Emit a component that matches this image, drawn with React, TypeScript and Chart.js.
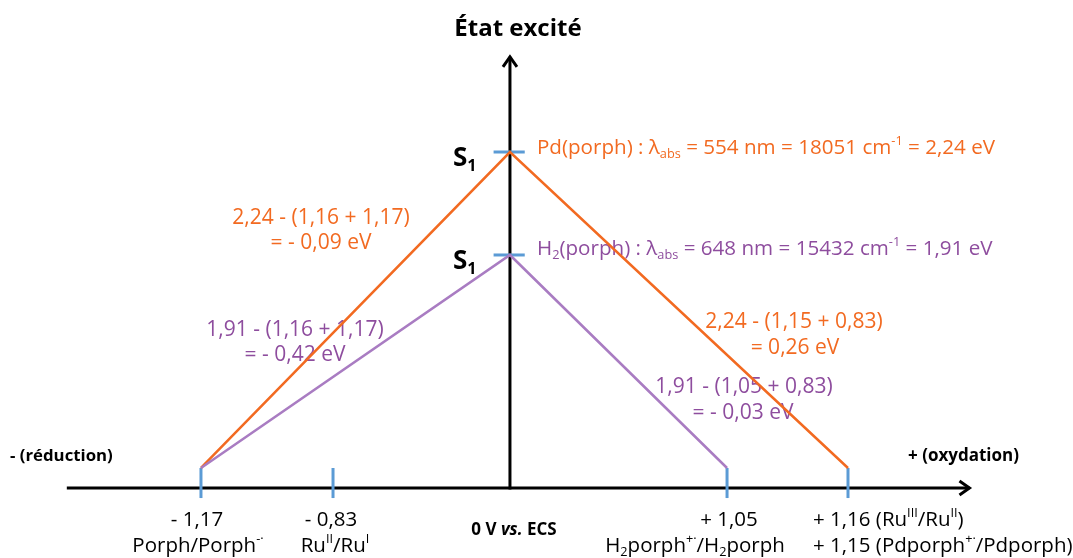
import React, { useEffect, useRef } from "react";
import { Chart, registerables } from "chart.js";
Chart.register(...registerables);

// Schematic positions on the diagram (x: potential axis, y: energy axis)
const reductionPos = -1.17; // Porph/Porph-.
const ruReductionPos = -0.67; // Ru(II)/Ru(I) drawn position
const h2OxidationPos = 0.822; // H2porph+./H2porph drawn position
const pdOxidationPos = 1.28; // Ru(III)/Ru(II), Pdporph+./Pdporph drawn position
const tickPositions = [reductionPos, ruReductionPos, h2OxidationPos, pdOxidationPos];

const pdLevel = 2.24; // S1 of Pd(porph)
const h2Level = 1.51; // S1 of H2(porph) (drawn level)

const pdPathX = [reductionPos, 0, pdOxidationPos];
const pdPathY = [0, pdLevel, 0];
const h2PathX = [reductionPos, 0, h2OxidationPos];
const h2PathY = [0, h2Level, 0];

const tickValueLabels = ["- 1,17", "- 0,83", "+ 1,05"];

const ORANGE = "#F26A21";
const PURPLE_TEXT = "#8E4D9E";
const PURPLE_LINE = "#A97CC2";
const BLUE = "#5B9BD5";
const FONT = "'Open Sans', Lato, sans-serif";
const FS = 21; // annotation text
const TS = 20.5; // tick label text

type Seg = { t: string; s?: "sub" | "sup"; style?: string };

function richWidth(ctx: CanvasRenderingContext2D, segs: Seg[], size: number, weight: string) {
  let w = 0;
  for (const sg of segs) {
    const fs = sg.s ? size * 0.62 : size;
    ctx.font = `${sg.style || ""} ${weight} ${fs}px ${FONT}`;
    w += ctx.measureText(sg.t).width;
  }
  return w;
}

function drawRich(
  ctx: CanvasRenderingContext2D,
  segs: Seg[],
  x: number,
  y: number,
  align: "left" | "center",
  size: number,
  color: string,
  weight = "normal"
) {
  const w = richWidth(ctx, segs, size, weight);
  let cx = align === "center" ? x - w / 2 : x;
  ctx.save();
  ctx.fillStyle = color;
  ctx.textAlign = "left";
  ctx.textBaseline = "middle";
  for (const sg of segs) {
    const fs = sg.s ? size * 0.62 : size;
    ctx.font = `${sg.style || ""} ${weight} ${fs}px ${FONT}`;
    const dy = sg.s === "sub" ? size * 0.3 : sg.s === "sup" ? -size * 0.32 : 0;
    ctx.fillText(sg.t, cx, y + dy);
    cx += ctx.measureText(sg.t).width;
  }
  ctx.restore();
}

const diagramPlugin = {
  id: "diagram",
  beforeDatasetsDraw(chart: any) {
    const ctx: CanvasRenderingContext2D = chart.ctx;
    const xs = chart.scales.x;
    const ys = chart.scales.y;
    const px = (v: number) => xs.getPixelForValue(v);
    const py = (v: number) => ys.getPixelForValue(v);
    const x0 = px(0);
    const axisY = py(-0.142);

    ctx.save();
    ctx.strokeStyle = "#000";
    ctx.lineWidth = 3;
    ctx.lineCap = "butt";
    // horizontal axis
    ctx.beginPath();
    ctx.moveTo(px(-1.678), axisY);
    ctx.lineTo(px(1.74), axisY);
    ctx.stroke();
    // arrowhead right
    const ax = px(1.74);
    ctx.lineJoin = "miter";
    ctx.beginPath();
    ctx.moveTo(ax - 10, axisY - 7);
    ctx.lineTo(ax, axisY);
    ctx.lineTo(ax - 10, axisY + 7);
    ctx.stroke();
    // vertical axis
    const topY = py(2.915);
    ctx.beginPath();
    ctx.moveTo(x0, axisY + 1.5);
    ctx.lineTo(x0, topY);
    ctx.stroke();
    ctx.beginPath();
    ctx.moveTo(x0 - 7, topY + 10);
    ctx.lineTo(x0, topY);
    ctx.lineTo(x0 + 7, topY + 10);
    ctx.stroke();

    // blue ticks
    ctx.strokeStyle = BLUE;
    ctx.lineWidth = 3;
    for (const t of tickPositions) {
      ctx.beginPath();
      ctx.moveTo(px(t), py(0));
      ctx.lineTo(px(t), py(-0.213));
      ctx.stroke();
    }
    // level marks
    for (const lv of [pdLevel, h2Level]) {
      ctx.beginPath();
      ctx.moveTo(px(-0.062), py(lv));
      ctx.lineTo(px(0.056), py(lv));
      ctx.stroke();
    }
    ctx.restore();

    // Title
    drawRich(ctx, [{ t: "État excité" }], x0 + 8, 29, "center", 24, "#000", "bold");

    // S1 labels
    for (const lv of [pdLevel, h2Level]) {
      drawRich(ctx, [{ t: "S" }, { t: "1", s: "sub" }], x0 - 57, py(lv) + 7, "left", 26, "#000", "bold");
    }

    // level descriptions
    drawRich(
      ctx,
      [
        { t: "Pd(porph) : λ" },
        { t: "abs", s: "sub" },
        { t: " = 554 nm = 18051 cm" },
        { t: "-1", s: "sup" },
        { t: " = 2,24 eV" },
      ],
      x0 + 27,
      py(pdLevel) - 4,
      "left",
      20.6,
      ORANGE
    );
    drawRich(
      ctx,
      [
        { t: "H" },
        { t: "2", s: "sub" },
        { t: "(porph) : λ" },
        { t: "abs", s: "sub" },
        { t: " = 648 nm = 15432 cm" },
        { t: "-1", s: "sup" },
        { t: " = 1,91 eV" },
      ],
      x0 + 27,
      py(h2Level) - 6,
      "left",
      20.6,
      PURPLE_TEXT
    );

    // driving force annotations
    drawRich(ctx, [{ t: "2,24 - (1,16 + 1,17)" }], 321, 218, "center", FS, ORANGE);
    drawRich(ctx, [{ t: "= - 0,09 eV" }], 321, 243, "center", FS, ORANGE);
    drawRich(ctx, [{ t: "1,91 - (1,16 + 1,17)" }], 295, 330, "center", FS, PURPLE_TEXT);
    drawRich(ctx, [{ t: "= - 0,42 eV" }], 295, 355, "center", FS, PURPLE_TEXT);
    drawRich(ctx, [{ t: "2,24 - (1,15 + 0,83)" }], 794, 322, "center", FS, ORANGE);
    drawRich(ctx, [{ t: "= 0,26 eV" }], 795, 348, "center", FS, ORANGE);
    drawRich(ctx, [{ t: "1,91 - (1,05 + 0,83)" }], 744, 387, "center", FS, PURPLE_TEXT);
    drawRich(ctx, [{ t: "= - 0,03 eV" }], 743, 413, "center", FS, PURPLE_TEXT);

    // axis side labels
    drawRich(ctx, [{ t: "- (réduction)" }], 10, 456, "left", 16.8, "#000", "bold");
    drawRich(ctx, [{ t: "+ (oxydation)" }], 908, 456, "left", 17, "#000", "bold");

    // tick labels
    const r1 = 520;
    const r2 = 546;
    drawRich(ctx, [{ t: tickValueLabels[0] }], px(tickPositions[0]) - 4, r1, "center", TS, "#000");
    drawRich(ctx, [{ t: "Porph/Porph" }, { t: "-·", s: "sup" }], px(tickPositions[0]) - 3, r2, "center", TS, "#000");
    drawRich(ctx, [{ t: tickValueLabels[1] }], px(tickPositions[1]) - 2, r1, "center", TS, "#000");
    drawRich(ctx, [{ t: "Ru" }, { t: "II", s: "sup" }, { t: "/Ru" }, { t: "I", s: "sup" }], px(tickPositions[1]) + 2, r2, "center", TS, "#000");
    drawRich(ctx, [{ t: "0 V " }, { t: "vs.", style: "italic" }, { t: " ECS" }], x0 + 4, 530, "center", 17, "#000", "bold");
    drawRich(ctx, [{ t: tickValueLabels[2] }], px(tickPositions[2]) + 2, r1, "center", TS, "#000");
    drawRich(
      ctx,
      [{ t: "H" }, { t: "2", s: "sub" }, { t: "porph" }, { t: "+·", s: "sup" }, { t: "/H" }, { t: "2", s: "sub" }, { t: "porph" }],
      px(tickPositions[2]) - 32,
      r2,
      "center",
      TS,
      "#000"
    );
    drawRich(ctx, [{ t: "+ 1,16 (Ru" }, { t: "III", s: "sup" }, { t: "/Ru" }, { t: "II", s: "sup" }, { t: ")" }], 813, r1, "left", TS, "#000");
    drawRich(ctx, [{ t: "+ 1,15 (Pdporph" }, { t: "+·", s: "sup" }, { t: "/Pdporph)" }], 813, r2, "left", TS, "#000");
  },
};

export default function App() {
  const ref = useRef<HTMLCanvasElement | null>(null);
  useEffect(() => {
    if (!ref.current) return;
    const toPts = (xs: number[], ys: number[]) => xs.map((x, i) => ({ x, y: ys[i] }));
    const chart = new Chart(ref.current, {
      type: "scatter",
      data: {
        datasets: [
          {
            label: "H2(porph)",
            data: toPts(h2PathX, h2PathY),
            showLine: true,
            borderColor: PURPLE_LINE,
            borderWidth: 2.5,
            pointRadius: 0,
            tension: 0,
          },
          {
            label: "Pd(porph)",
            data: toPts(pdPathX, pdPathY),
            showLine: true,
            borderColor: ORANGE,
            borderWidth: 2.5,
            pointRadius: 0,
            tension: 0,
          },
        ],
      },
      options: {
        responsive: false,
        animation: false,
        layout: { padding: 0 },
        scales: {
          x: { type: "linear", display: false, min: -1.931, max: 2.132 },
          y: { type: "linear", display: false, min: -0.638, max: 3.3175 },
        },
        plugins: { legend: { display: false }, tooltip: { enabled: false } },
      },
      plugins: [diagramPlugin],
    } as any);
    return () => chart.destroy();
  }, []);
  return (
    <div style={{ position: "absolute", left: 0, top: 0, width: 1073, height: 558, background: "#fff" }}>
      <canvas ref={ref} width={1073} height={558} style={{ display: "block" }} />
    </div>
  );
}
